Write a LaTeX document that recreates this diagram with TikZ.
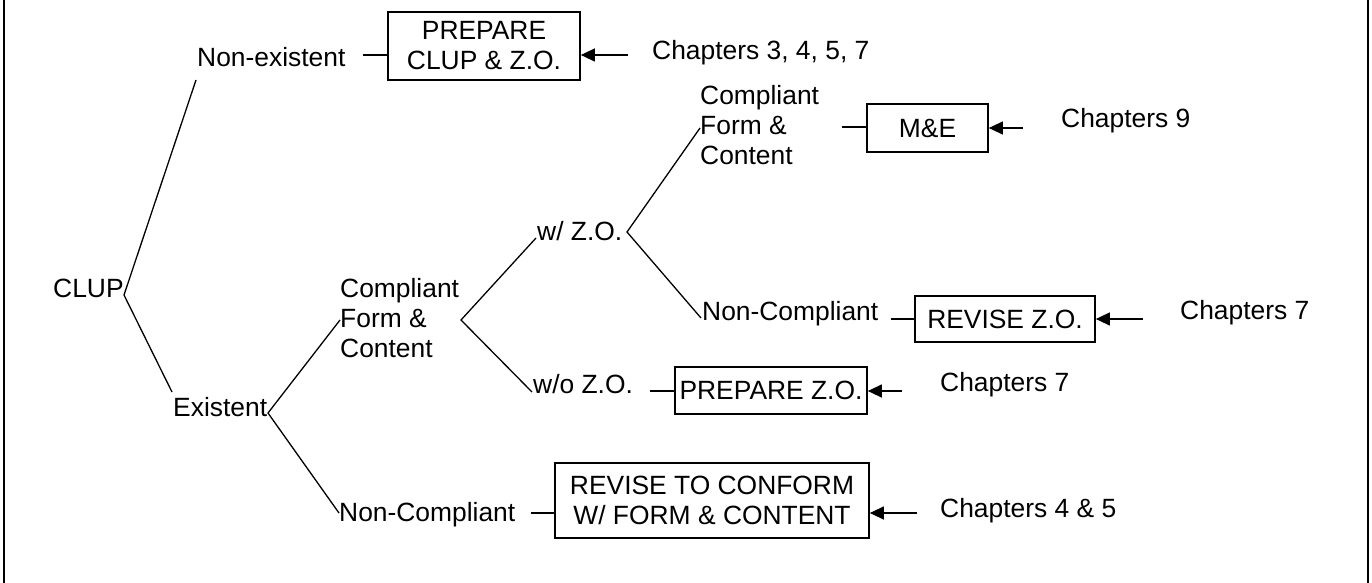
\documentclass[tikz,border=0pt]{standalone}
\usepackage{fontspec}
\setmainfont{Liberation Sans}
\usetikzlibrary{arrows.meta}

\begin{document}
\begin{tikzpicture}[x=1pt, y=-1pt,
    font=\fontsize{26.4}{30}\selectfont,
    lbl/.style={anchor=west, inner sep=0pt, align=left},
    act/.style={draw, line width=1.7pt, inner sep=0pt, align=center},
    link/.style={line width=1.3pt},
    arr/.style={line width=1.3pt, -{Triangle[length=14pt,width=13pt]}},
    frame/.style={line width=1.8pt}]
    \useasboundingbox (0,0) rectangle (1372,583);
    % page frame
    \draw[frame] (4,0) -- (4,583);
    \draw[frame] (1368,0) -- (1368,583);

    % decision labels
    \node[lbl] (clup) at (53,288) {CLUP};
    \node[lbl] (nonex) at (197,57) {Non-existent};
    \node[lbl] (exist) at (173,407) {Existent};
    \node[lbl] (cfc) at (340,318) {Compliant\\Form \&\\Content};
    \node[lbl] (wzo) at (537,231) {w/ Z.O.};
    \node[lbl] (wozo) at (533,384) {w/o Z.O.};
    \node[lbl] (cfczo) at (700,125) {Compliant\\Form \&\\Content};
    \node[lbl] (nczo) at (702,314) {Non-Compliant};
    \node[lbl] (nc) at (339,515) {Non-Compliant};

    % actions
    \node[act, minimum width=192pt, minimum height=68pt] (prepclup) at (484,46) {PREPARE\\CLUP \& Z.O.};
    \node[act, minimum width=121pt, minimum height=48pt] (me) at (927.5,128) {M\&E};
    \node[act, minimum width=180pt, minimum height=46pt] (revzo) at (1005,319) {REVISE Z.O.};
    \node[act, minimum width=192pt, minimum height=47pt] (prepzo) at (771,390.5) {PREPARE Z.O.};
    \node[act, minimum width=314pt, minimum height=75pt] (revcf) at (712,500.5) {REVISE TO CONFORM\\W/ FORM \& CONTENT};

    % references
    \node[lbl] (ch1) at (652,53) {Chapters 3, 4, 5, 7};
    \node[lbl] (ch2) at (1061,121) {Chapters 9};
    \node[lbl] (ch3) at (1180,313) {Chapters 7};
    \node[lbl] (ch4) at (940,385) {Chapters 7};
    \node[lbl] (ch5) at (940,511) {Chapters 4 \& 5};

    % fork points
    \coordinate (v1) at (124,295);
    \coordinate (v1up) at (196,80);
    \coordinate (v1dn) at (172,392);
    \coordinate (v2) at (268,413);
    \coordinate (v2up) at (340,320);
    \coordinate (v2dn) at (339,513);
    \coordinate (v3) at (461,320);
    \coordinate (v3up) at (536,238);
    \coordinate (v3dn) at (532,392);
    \coordinate (v4) at (627,232);
    \coordinate (v4up) at (700,128);
    \coordinate (v4dn) at (701,318);

    \draw[link] (v1up) -- (v1) -- (v1dn);
    \draw[link] (v2up) -- (v2) -- (v2dn);
    \draw[link] (v3up) -- (v3) -- (v3dn);
    \draw[link] (v4up) -- (v4) -- (v4dn);

    % stubs into the boxes
    \coordinate (s1) at (363,55);
    \coordinate (s2) at (842,127);
    \coordinate (s3) at (891,319);
    \coordinate (s4) at (650,391);
    \coordinate (s5) at (531,513);
    \draw[link] (s1) -- (s1 -| prepclup.west);
    \draw[link] (s2) -- (s2 -| me.west);
    \draw[link] (s3) -- (s3 -| revzo.west);
    \draw[link] (s4) -- (s4 -| prepzo.west);
    \draw[link] (s5) -- (s5 -| revcf.west);

    % arrows from the chapters
    \coordinate (a1) at (628,55);
    \coordinate (a2) at (1023,128);
    \coordinate (a3) at (1143,319);
    \coordinate (a4) at (902,391);
    \coordinate (a5) at (917,513);
    \draw[arr] (a1) -- (a1 -| prepclup.east);
    \draw[arr] (a2) -- (a2 -| me.east);
    \draw[arr] (a3) -- (a3 -| revzo.east);
    \draw[arr] (a4) -- (a4 -| prepzo.east);
    \draw[arr] (a5) -- (a5 -| revcf.east);
\end{tikzpicture}
\end{document}
